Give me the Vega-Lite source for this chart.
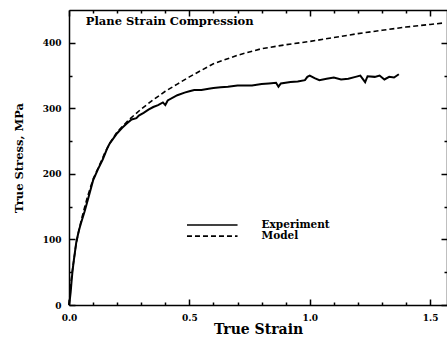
{
  "$schema": "https://vega.github.io/schema/vega-lite/v6.json",
  "autosize": {"type": "none"},
  "width": 378,
  "height": 295,
  "padding": {"left": 69, "top": 10, "right": 0, "bottom": 35},
  "background": "white",
  "config": {
    "view": {"stroke": null},
    "font": "DejaVu Serif",
    "axis": {"grid": false, "domainColor": "black", "domainWidth": 1.5, "tickColor": "black", "tickWidth": 1.5, "labelColor": "black", "titleColor": "black", "labelFont": "DejaVu Serif", "labelFontWeight": "bold", "labelFontSize": 9, "titleFont": "DejaVu Serif", "titleFontWeight": "bold", "titleFontSize": 12}
  },
  "datasets": {
    "experiment": [
      {"strain": 0, "stress": 0}, {"strain": 0.004, "stress": 10}, {"strain": 0.007, "stress": 20}, {"strain": 0.011, "stress": 38},
      {"strain": 0.015, "stress": 53}, {"strain": 0.02, "stress": 68}, {"strain": 0.03, "stress": 95}, {"strain": 0.04, "stress": 112},
      {"strain": 0.05, "stress": 125}, {"strain": 0.065, "stress": 143}, {"strain": 0.08, "stress": 163}, {"strain": 0.1, "stress": 190},
      {"strain": 0.12, "stress": 207}, {"strain": 0.14, "stress": 222}, {"strain": 0.16, "stress": 240}, {"strain": 0.17, "stress": 247},
      {"strain": 0.18, "stress": 252}, {"strain": 0.2, "stress": 262}, {"strain": 0.22, "stress": 270}, {"strain": 0.24, "stress": 277},
      {"strain": 0.26, "stress": 283}, {"strain": 0.28, "stress": 285}, {"strain": 0.29, "stress": 289}, {"strain": 0.31, "stress": 293},
      {"strain": 0.33, "stress": 298}, {"strain": 0.35, "stress": 302}, {"strain": 0.37, "stress": 305}, {"strain": 0.39, "stress": 309},
      {"strain": 0.40, "stress": 305}, {"strain": 0.41, "stress": 312}, {"strain": 0.45, "stress": 320}, {"strain": 0.48, "stress": 324},
      {"strain": 0.50, "stress": 326}, {"strain": 0.52, "stress": 328}, {"strain": 0.55, "stress": 328}, {"strain": 0.58, "stress": 330},
      {"strain": 0.60, "stress": 331}, {"strain": 0.63, "stress": 332}, {"strain": 0.66, "stress": 333}, {"strain": 0.70, "stress": 335},
      {"strain": 0.73, "stress": 335}, {"strain": 0.76, "stress": 335}, {"strain": 0.80, "stress": 337}, {"strain": 0.83, "stress": 338},
      {"strain": 0.86, "stress": 339}, {"strain": 0.87, "stress": 333}, {"strain": 0.88, "stress": 338}, {"strain": 0.92, "stress": 340},
      {"strain": 0.95, "stress": 341}, {"strain": 0.98, "stress": 343}, {"strain": 0.99, "stress": 348}, {"strain": 1.00, "stress": 350},
      {"strain": 1.02, "stress": 346}, {"strain": 1.04, "stress": 343}, {"strain": 1.07, "stress": 345}, {"strain": 1.10, "stress": 347},
      {"strain": 1.13, "stress": 344}, {"strain": 1.16, "stress": 345}, {"strain": 1.19, "stress": 348}, {"strain": 1.21, "stress": 350},
      {"strain": 1.23, "stress": 340}, {"strain": 1.24, "stress": 349}, {"strain": 1.27, "stress": 348}, {"strain": 1.29, "stress": 350},
      {"strain": 1.31, "stress": 344}, {"strain": 1.33, "stress": 348}, {"strain": 1.35, "stress": 347}, {"strain": 1.37, "stress": 352}
    ],
    "model": [
      {"strain": 0, "stress": 0}, {"strain": 0.005, "stress": 20}, {"strain": 0.01, "stress": 40}, {"strain": 0.015, "stress": 55},
      {"strain": 0.02, "stress": 68}, {"strain": 0.03, "stress": 95}, {"strain": 0.05, "stress": 128}, {"strain": 0.075, "stress": 163},
      {"strain": 0.1, "stress": 192}, {"strain": 0.125, "stress": 212}, {"strain": 0.15, "stress": 233}, {"strain": 0.175, "stress": 250},
      {"strain": 0.2, "stress": 264}, {"strain": 0.25, "stress": 283}, {"strain": 0.3, "stress": 299}, {"strain": 0.35, "stress": 313},
      {"strain": 0.4, "stress": 326}, {"strain": 0.45, "stress": 337}, {"strain": 0.5, "stress": 348}, {"strain": 0.55, "stress": 358},
      {"strain": 0.6, "stress": 368}, {"strain": 0.7, "stress": 381}, {"strain": 0.8, "stress": 391}, {"strain": 0.9, "stress": 397},
      {"strain": 1.0, "stress": 402}, {"strain": 1.1, "stress": 408}, {"strain": 1.2, "stress": 414}, {"strain": 1.3, "stress": 419},
      {"strain": 1.4, "stress": 424}, {"strain": 1.5, "stress": 428}, {"strain": 1.55, "stress": 430}
    ],
    "legend": [
      {"series": "Experiment", "x1": 0.49, "x2": 0.70, "xt": 0.80, "y": 122},
      {"series": "Model", "x1": 0.49, "x2": 0.70, "xt": 0.80, "y": 105}
    ],
    "label": [
      {"text": "Plane Strain Compression", "x": 0.07, "y": 432}
    ]
  },
  "layer": [
    {
      "data": {"name": "experiment"},
      "mark": {"type": "line", "color": "black", "strokeWidth": 2},
      "encoding": {
        "x": {"field": "strain", "type": "quantitative", "scale": {"domain": [0, 1.57], "nice": false, "zero": false},
          "axis": {"orient": "bottom", "title": "True Strain", "titleFontSize": 14, "values": [0, 0.1, 0.2, 0.3, 0.4, 0.5, 0.6, 0.7, 0.8, 0.9, 1.0, 1.1, 1.2, 1.3, 1.4, 1.5],
            "labelExpr": "round(datum.value*10) % 5 === 0 ? format(datum.value, '.1f') : ''",
            "tickSize": {"condition": {"test": "round(datum.value*10) % 5 === 0", "value": -6}, "value": -3},
            "labelPadding": 14, "titlePadding": 0, "labelFlush": false}},
        "y": {"field": "stress", "type": "quantitative", "scale": {"domain": [0, 450], "nice": false},
          "axis": {"orient": "left", "title": "True Stress, MPa", "titleFontSize": 11.5, "values": [0, 50, 100, 150, 200, 250, 300, 350, 400],
            "labelExpr": "datum.value % 100 === 0 ? datum.value : ''",
            "tickSize": {"condition": {"test": "datum.value % 100 === 0", "value": -6}, "value": -3},
            "labelPadding": 14, "titlePadding": 18, "labelFlush": false}}
      }
    },
    {
      "data": {"name": "model"},
      "mark": {"type": "line", "color": "black", "strokeWidth": 1.6, "strokeDash": [5, 3]},
      "encoding": {
        "x": {"field": "strain", "type": "quantitative",
          "axis": {"orient": "top", "title": null, "labels": false, "values": [0, 0.1, 0.2, 0.3, 0.4, 0.5, 0.6, 0.7, 0.8, 0.9, 1.0, 1.1, 1.2, 1.3, 1.4, 1.5],
            "tickSize": {"condition": {"test": "round(datum.value*10) % 5 === 0", "value": -6}, "value": -3}}},
        "y": {"field": "stress", "type": "quantitative",
          "axis": {"orient": "right", "title": null, "labels": false, "values": [0, 50, 100, 150, 200, 250, 300, 350, 400],
            "tickSize": {"condition": {"test": "datum.value % 100 === 0", "value": -6}, "value": -3}}}
      }
    },
    {
      "data": {"name": "legend"},
      "mark": {"type": "rule", "color": "black"},
      "encoding": {
        "x": {"field": "x1", "type": "quantitative", "axis": null},
        "x2": {"field": "x2"},
        "y": {"field": "y", "type": "quantitative", "axis": null},
        "strokeDash": {"field": "series", "type": "nominal", "scale": {"domain": ["Experiment", "Model"], "range": [[1, 0], [5, 3]]}, "legend": null},
        "strokeWidth": {"field": "series", "type": "nominal", "scale": {"domain": ["Experiment", "Model"], "range": [1.5, 1.6]}, "legend": null}
      }
    },
    {
      "data": {"name": "legend"},
      "mark": {"type": "text", "align": "left", "baseline": "middle", "font": "DejaVu Serif", "fontWeight": "bold", "fontSize": 10.5, "color": "black"},
      "encoding": {
        "x": {"field": "xt", "type": "quantitative", "axis": null},
        "y": {"field": "y", "type": "quantitative", "axis": null},
        "text": {"field": "series"}
      }
    },
    {
      "data": {"name": "label"},
      "mark": {"type": "text", "align": "left", "baseline": "middle", "font": "DejaVu Serif", "fontWeight": "bold", "fontSize": 11.5, "color": "black"},
      "encoding": {
        "x": {"field": "x", "type": "quantitative", "axis": null},
        "y": {"field": "y", "type": "quantitative", "axis": null},
        "text": {"field": "text"}
      }
    }
  ],
  "resolve": {"axis": {"x": "independent", "y": "independent"}}
}
